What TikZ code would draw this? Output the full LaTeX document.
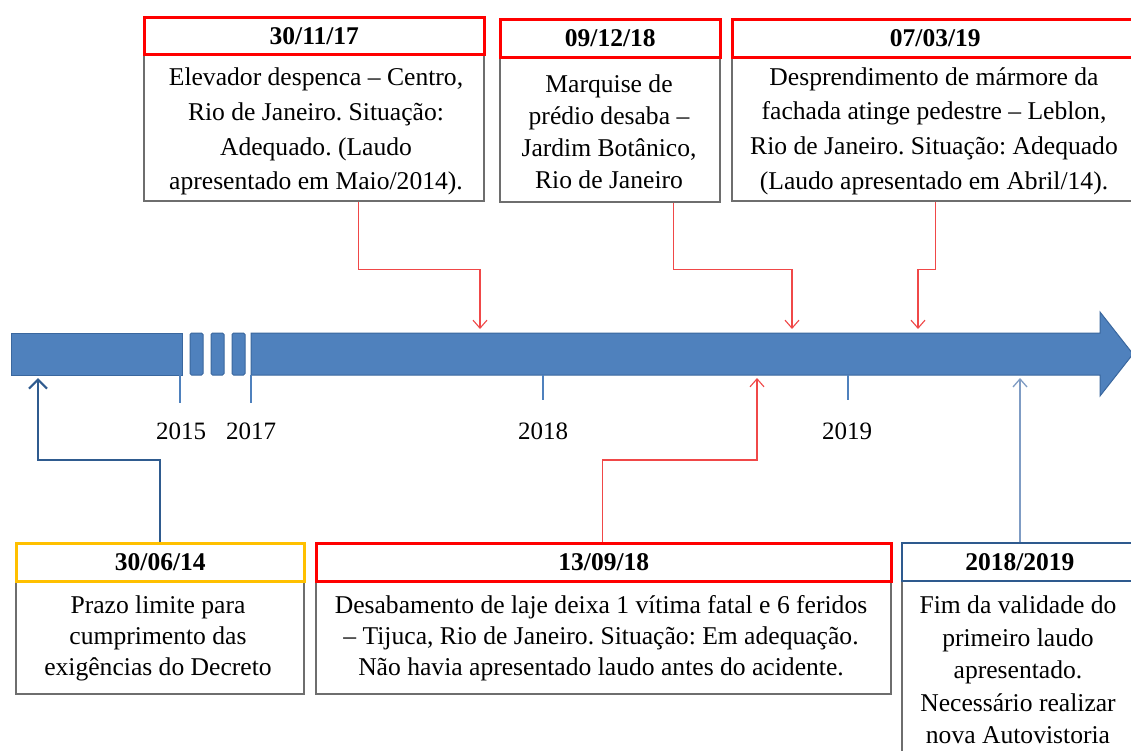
\documentclass[tikz,border=0pt]{standalone}
\usepackage{fontspec}
\setmainfont{Liberation Serif}
\usetikzlibrary{arrows.meta}
\frenchspacing
\definecolor{barblue}{HTML}{4F81BD}
\definecolor{baredge}{HTML}{3A679E}
\definecolor{hdrred}{HTML}{FF0000}
\definecolor{hdryel}{HTML}{FFC000}
\definecolor{hdrblue}{HTML}{2E5A8E}
\definecolor{boxgray}{HTML}{6E6E6E}
\definecolor{darkarrow}{HTML}{2F5B8F}
\definecolor{lightarrow}{HTML}{7F9CC4}
\definecolor{linered}{HTML}{F04848}
\tikzset{
  hdr/.style={draw=#1, line width=2.6pt, fill=white, anchor=north west, inner sep=0pt,
    font=\fontsize{25.5}{30}\selectfont\bfseries},
  bodybox/.style={draw=boxgray, line width=1.6pt, fill=white, anchor=north west, inner sep=0pt},
  bodytext/.style={align=center, inner sep=0pt, font=\fontsize{25.6}{#1}\selectfont\frenchspacing},
  yearlbl/.style={font=\fontsize{25}{30}\selectfont, inner sep=0pt},
  redarrow/.style={draw=linered, line width=1.1pt, -{Straight Barb[length=8pt,width=14pt,line width=1.1pt]}},
  bluearrow/.style={draw=darkarrow, line width=2.2pt, -{Straight Barb[length=9pt,width=18pt,line width=2.2pt]}},
  palearrow/.style={draw=lightarrow, line width=1.3pt, -{Straight Barb[length=8pt,width=14pt,line width=1.3pt]}},
  tick/.style={draw=barblue, line width=1.2pt},
  barpart/.style={fill=barblue, draw=baredge, line width=1pt}
}
\begin{document}
\begin{tikzpicture}[x=1pt,y=-1pt]
\clip (0,0) rectangle (1131,751);
\fill[white] (0,0) rectangle (1131,751);

% timeline
\path[barpart] (11,333) rectangle (182,375);
\path[barpart, rounded corners=1.5pt] (190,333) rectangle (203,375);
\path[barpart, rounded corners=1.5pt] (211,333) rectangle (224,375);
\path[barpart, rounded corners=1.5pt] (232,333) rectangle (245,375);
\path[barpart] (251,333) -- (1100,333) -- (1100,312) -- (1133,354) -- (1100,396) -- (1100,375) -- (251,375) -- cycle;

% ticks
\draw[tick] (180,375) -- (180,403);
\draw[tick] (251,375) -- (251,403);
\draw[tick] (543,375) -- (543,400);
\draw[tick] (848,375) -- (848,400);
\node[yearlbl] (y15) at (181,431) {2015};
\node[yearlbl] (y17) at (251,431) {2017};
\node[yearlbl] (y18) at (543,431) {2018};
\node[yearlbl] (y19) at (847,431) {2019};

% arrow targets
\coordinate (t1) at (480,329);
\coordinate (t2) at (792,329);
\coordinate (t3) at (918,329);
\coordinate (t4) at (757,378);
\coordinate (t5) at (38,378);
\coordinate (t6) at (1020,378);

% top boxes
\node[bodybox, minimum width=340, minimum height=147] (b1) at (143,53) {};
\node[hdr=hdrred, minimum width=340, minimum height=37] (h1) at (143,16) {30/11/17};
\node[bodytext=34.7] (b1t) at (316,131.5)
  {Elevador despenca – Centro,\\Rio de Janeiro. Situação:\\Adequado. (Laudo\\apresentado em Maio/2014).};

\node[bodybox, minimum width=220, minimum height=145] (b2) at (499,56) {};
\node[hdr=hdrred, minimum width=220, minimum height=38] (h2) at (499,18) {09/12/18};
\node[bodytext=32] (b2t) at (609,131.5)
  {Marquise de\\prédio desaba –\\Jardim Botânico,\\Rio de Janeiro};

\node[bodybox, minimum width=406, minimum height=144] (b3) at (731,56) {};
\node[hdr=hdrred, minimum width=406, minimum height=38] (h3) at (731,18) {07/03/19};
\node[bodytext=34.7] (b3t) at (934,131)
  {Desprendimento de mármore da\\fachada atinge pedestre – Leblon,\\Rio de Janeiro. Situação: Adequado\\(Laudo apresentado em Abril/14).};

% bottom boxes
\node[bodybox, minimum width=288, minimum height=113] (b4) at (15,580) {};
\node[hdr=hdryel, minimum width=288, minimum height=38] (h4) at (15,542) {30/06/14};
\node[bodytext=31] (b4t) at (158,638.5)
  {Prazo limite para\\cumprimento das\\exigências do Decreto};

\node[bodybox, minimum width=575, minimum height=113] (b5) at (315,580) {};
\node[hdr=hdrred, minimum width=575, minimum height=38] (h5) at (315,542) {13/09/18};
\node[bodytext=31] (b5t) at (601,638.5)
  {Desabamento de laje deixa 1 vítima fatal e 6 feridos\\– Tijuca, Rio de Janeiro. Situação: Em adequação.\\Não havia apresentado laudo antes do acidente.};

\node[bodybox, minimum width=236, minimum height=190] (b6) at (901,580) {};
\node[hdr=hdrblue, minimum width=236, minimum height=38, line width=1.8pt] (h6) at (901,542) {2018/2019};
\node[bodytext=32.5] (b6t) at (1018,670)
  {Fim da validade do\\primeiro laudo\\apresentado.\\Necessário realizar\\nova Autovistoria};

% connectors
\draw[redarrow] ([xshift=45]b1.south) -- ++(0,68) -| (t1);
\draw[redarrow] ([xshift=64]b2.south) -- ++(0,67) -| (t2);
\draw[redarrow] ([xshift=1]b3.south) -- ++(0,68) -| (t3);
\draw[redarrow] ([xshift=-1]h5.north) -- ++(0,-82) -| (t4);
\draw[bluearrow] (h4.north) -- ++(0,-82) -| (t5);
\draw[palearrow] (h6.north -| t6) -- (t6);
\end{tikzpicture}
\end{document}
